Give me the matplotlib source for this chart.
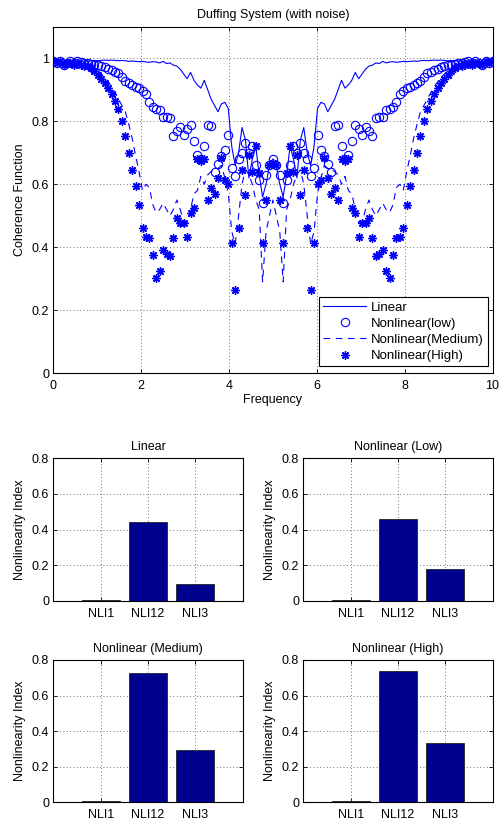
import numpy as np
import matplotlib
matplotlib.use("Agg")
import matplotlib.pyplot as plt
from matplotlib.ticker import FuncFormatter

plt.rcParams['font.family'] = ['Liberation Sans', 'DejaVu Sans']
plt.rcParams['font.size'] = 9

# ---------------- data ----------------
freq = np.linspace(0, 10, 129)

coh_linear = [
    0.99, 0.99, 0.985, 0.99, 0.988, 0.99, 0.987, 0.99, 0.99, 0.991,
    0.99, 0.992, 0.993, 0.992, 0.993, 0.994, 0.993, 0.994, 0.993, 0.992,
    0.993, 0.992, 0.99, 0.991, 0.99, 0.989, 0.99, 0.988, 0.987, 0.989,
    0.988, 0.985, 0.99, 0.983, 0.985, 0.978, 0.975, 0.965, 0.95, 0.935,
    0.955, 0.93, 0.915, 0.905, 0.93, 0.9, 0.87, 0.85, 0.83, 0.855,
    0.86, 0.84, 0.72, 0.66, 0.70, 0.78, 0.74, 0.62, 0.68, 0.72,
    0.63, 0.56, 0.60, 0.66, 0.68,
    0.66, 0.60, 0.56, 0.63, 0.72, 0.68, 0.62, 0.74, 0.78, 0.70,
    0.66, 0.72, 0.84, 0.86, 0.855, 0.83, 0.85, 0.87, 0.9, 0.93,
    0.905, 0.915, 0.93, 0.955, 0.935, 0.95, 0.965, 0.975, 0.978, 0.985,
    0.983, 0.99, 0.985, 0.988, 0.989, 0.987, 0.988, 0.99, 0.989, 0.99,
    0.991, 0.99, 0.992, 0.993, 0.992, 0.993, 0.994, 0.993, 0.994, 0.993,
    0.992, 0.993, 0.992, 0.99, 0.991, 0.99, 0.99, 0.987, 0.99, 0.988,
    0.99, 0.985, 0.99, 0.99,
]

coh_low = [
    0.99, 0.985, 0.99, 0.98, 0.985, 0.99, 0.985, 0.99, 0.988, 0.985,
    0.985, 0.983, 0.98, 0.978, 0.975, 0.972, 0.966, 0.962, 0.957, 0.952,
    0.94, 0.928, 0.92, 0.915, 0.91, 0.905, 0.895, 0.885, 0.86, 0.845,
    0.84, 0.835, 0.815, 0.812, 0.81, 0.752, 0.768, 0.783, 0.757, 0.775,
    0.789, 0.736, 0.693, 0.68, 0.72, 0.789, 0.786, 0.64, 0.665, 0.69,
    0.71, 0.757, 0.65, 0.625, 0.68, 0.70, 0.73, 0.70, 0.72, 0.662,
    0.614, 0.54, 0.63, 0.66, 0.68,
    0.66, 0.63, 0.54, 0.614, 0.662, 0.72, 0.70, 0.73, 0.70, 0.68,
    0.625, 0.65, 0.757, 0.71, 0.69, 0.665, 0.64, 0.786, 0.789, 0.72,
    0.68, 0.693, 0.736, 0.789, 0.775, 0.757, 0.783, 0.768, 0.752, 0.81,
    0.812, 0.815, 0.835, 0.84, 0.845, 0.86, 0.885, 0.895, 0.905, 0.91,
    0.915, 0.92, 0.928, 0.94, 0.952, 0.957, 0.962, 0.966, 0.972, 0.975,
    0.978, 0.98, 0.983, 0.985, 0.985, 0.988, 0.99, 0.985, 0.99, 0.985,
    0.98, 0.99, 0.985, 0.99,
]

coh_medium = [
    0.99, 0.985, 0.99, 0.985, 0.985, 0.99, 0.985, 0.985, 0.98, 0.98,
    0.978, 0.975, 0.97, 0.96, 0.95, 0.94, 0.925, 0.91, 0.89, 0.87,
    0.85, 0.83, 0.79, 0.745, 0.69, 0.64, 0.58, 0.60, 0.59, 0.535,
    0.51, 0.52, 0.54, 0.52, 0.50, 0.52, 0.55, 0.52, 0.48, 0.477,
    0.52, 0.57, 0.58, 0.625, 0.60, 0.63, 0.64, 0.646, 0.65, 0.66,
    0.62, 0.57, 0.45, 0.41, 0.50, 0.60, 0.646, 0.63, 0.60, 0.55,
    0.52, 0.29, 0.45, 0.50, 0.55,
    0.50, 0.45, 0.29, 0.52, 0.55, 0.60, 0.63, 0.646, 0.60, 0.50,
    0.41, 0.45, 0.57, 0.62, 0.66, 0.65, 0.646, 0.64, 0.63, 0.60,
    0.625, 0.58, 0.57, 0.52, 0.477, 0.48, 0.52, 0.55, 0.52, 0.50,
    0.52, 0.54, 0.52, 0.51, 0.535, 0.59, 0.60, 0.58, 0.64, 0.69,
    0.745, 0.79, 0.83, 0.85, 0.87, 0.89, 0.91, 0.925, 0.94, 0.95,
    0.96, 0.97, 0.975, 0.978, 0.98, 0.98, 0.985, 0.985, 0.99, 0.985,
    0.985, 0.99, 0.985, 0.99,
]

coh_high = [
    0.99, 0.985, 0.99, 0.98, 0.985, 0.985, 0.98, 0.985, 0.98, 0.975,
    0.975, 0.97, 0.96, 0.948, 0.935, 0.92, 0.905, 0.885, 0.863, 0.84,
    0.80, 0.752, 0.70, 0.644, 0.596, 0.535, 0.46, 0.434, 0.43, 0.376,
    0.302, 0.326, 0.392, 0.38, 0.372, 0.429, 0.492, 0.476, 0.478, 0.434,
    0.508, 0.524, 0.68, 0.675, 0.68, 0.55, 0.588, 0.57, 0.62, 0.684,
    0.614, 0.60, 0.413, 0.265, 0.46, 0.646, 0.566, 0.694, 0.64, 0.72,
    0.635, 0.413, 0.55, 0.66, 0.667,
    0.66, 0.55, 0.413, 0.635, 0.72, 0.64, 0.694, 0.566, 0.646, 0.46,
    0.265, 0.413, 0.60, 0.614, 0.684, 0.62, 0.57, 0.588, 0.55, 0.68,
    0.675, 0.68, 0.524, 0.508, 0.434, 0.478, 0.476, 0.492, 0.429, 0.372,
    0.38, 0.392, 0.326, 0.302, 0.376, 0.43, 0.434, 0.46, 0.535, 0.596,
    0.644, 0.70, 0.752, 0.80, 0.84, 0.863, 0.885, 0.905, 0.92, 0.935,
    0.948, 0.96, 0.97, 0.975, 0.975, 0.98, 0.985, 0.98, 0.985, 0.985,
    0.98, 0.99, 0.985, 0.99,
]

series_labels = ['Linear', 'Nonlinear(low)', 'Nonlinear(Medium)', 'Nonlinear(High)']

nli_labels = ['NLI1', 'NLI12', 'NLI3']
bar_titles = ['Linear', 'Nonlinear (Low)', 'Nonlinear (Medium)', 'Nonlinear (High)']
nli_linear = [0.005, 0.444, 0.092]
nli_low = [0.005, 0.461, 0.176]
nli_medium = [0.008, 0.729, 0.296]
nli_high = [0.010, 0.736, 0.335]

# ---------------- figure ----------------
W, H = 501, 827
fig = plt.figure(figsize=(W / 100, H / 100), dpi=100)


def ax_px(l, t, r, b):
    return fig.add_axes([l / W, 1 - b / H, (r - l) / W, (b - t) / H])


def style(ax):
    ax.tick_params(direction='in', top=True, right=True, length=3,
                   width=0.6, labelsize=9)
    ax.tick_params(axis='x', pad=5)
    ax.tick_params(axis='y', pad=3)
    for s in ax.spines.values():
        s.set_linewidth(0.8)
    ax.grid(True, linestyle=(0, (1, 3)), color='#444444', linewidth=0.6)
    ax.set_axisbelow(True)


fmt = FuncFormatter(lambda v, p: '%g' % round(v, 6))

# top plot
ax = ax_px(53.3, 26.7, 492.5, 373.3)
style(ax)
blue = (0, 0, 1)
ax.plot(freq, coh_linear, '-', color=blue, lw=0.8, label=series_labels[0])
ax.plot(freq, coh_low, 'o', color=blue, mfc='none', ms=6, mew=0.8,
        label=series_labels[1], linestyle='none')
ax.plot(freq, coh_medium, color=blue, lw=0.8, linestyle=(0, (6, 5)),
        label=series_labels[2])
ax.plot(freq, coh_high, marker=(8, 2, 0), color=blue, ms=6, mew=1.0,
        linestyle='none', label=series_labels[3])
ax.set_xlim(0, 10)
ax.set_ylim(0, 1.1)
ax.set_xticks([0, 2, 4, 6, 8, 10])
ax.set_yticks([0, 0.2, 0.4, 0.6, 0.8, 1.0])
ax.xaxis.set_major_formatter(fmt)
ax.yaxis.set_major_formatter(fmt)
ax.set_xlabel('Frequency', labelpad=1)
ax.set_ylabel('Coherence Function', labelpad=4)
ax.set_title('Duffing System (with noise)', fontsize=9, pad=6)
leg = ax.legend(loc='lower right', bbox_to_anchor=(0.995, 0.013),
                fancybox=False, edgecolor='black', framealpha=1,
                handlelength=3.2, labelspacing=0.3, borderpad=0.3,
                handletextpad=0.4, borderaxespad=0.2, fontsize=9.5)
leg.get_frame().set_linewidth(0.8)

# bar plots
positions = [
    (53.3, 458.3, 242.7, 600.7),
    (303.3, 458.3, 492.7, 600.7),
    (53.3, 660.0, 242.7, 802.3),
    (303.3, 660.0, 492.7, 802.3),
]
nli_sets = [nli_linear, nli_low, nli_medium, nli_high]
xpos = np.arange(1, len(nli_labels) + 1)
for pos, vals, title in zip(positions, nli_sets, bar_titles):
    bx = ax_px(*pos)
    style(bx)
    bx.bar(xpos, vals, width=0.8, color='#00008f', edgecolor='#222222',
           linewidth=0.6, zorder=3)
    bx.set_xlim(0, 4)
    bx.set_ylim(0, 0.8)
    bx.set_xticks(xpos)
    bx.set_xticklabels(nli_labels)
    bx.set_yticks([0, 0.2, 0.4, 0.6, 0.8])
    bx.yaxis.set_major_formatter(fmt)
    bx.set_ylabel('Nonlinearity Index', labelpad=4)
    bx.set_title(title, fontsize=9, pad=6)

fig.savefig('out.png', dpi=100)
